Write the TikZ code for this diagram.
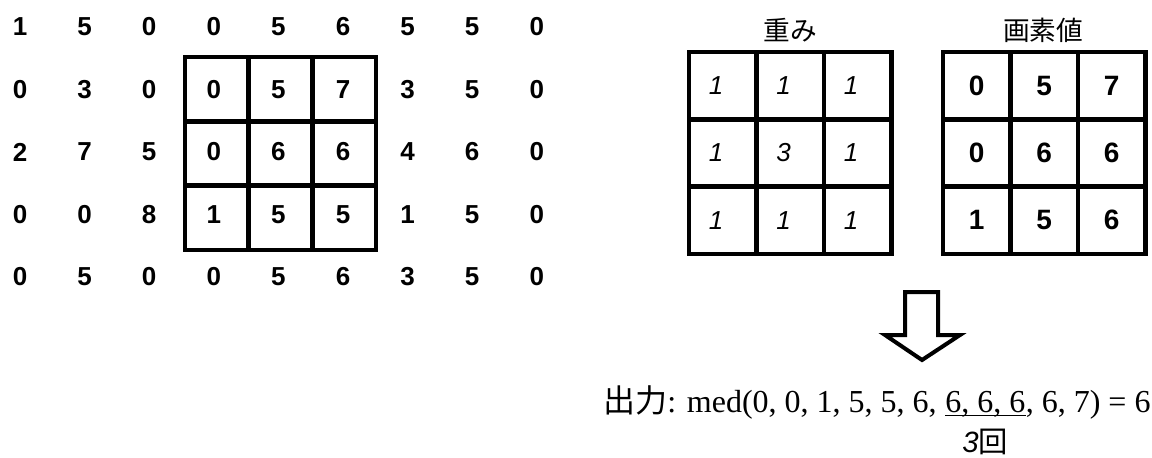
\documentclass[tikz,border=0pt]{standalone}
\usepackage{fontspec}
\setmainfont{Liberation Serif}
\setsansfont{Liberation Sans}
\newfontfamily\jpfont{Noto Sans CJK JP}
\usetikzlibrary{positioning}

\tikzset{
  num/.style={font=\sffamily\bfseries\fontsize{19.5}{19.5}\selectfont, inner sep=0pt},
  wnum/.style={font=\sffamily\itshape\fontsize{19.5}{19.5}\selectfont, inner sep=0pt, xshift=-5pt},
  pnum/.style={font=\sffamily\bfseries\fontsize{21}{21}\selectfont, inner sep=0pt},
  win/.style={line width=3.6pt, line cap=rect},
  head/.style={font=\jpfont\fontsize{20}{20}\selectfont, inner sep=0pt},
  outtxt/.style={font=\fontsize{24}{24}\selectfont, inner sep=0pt},
  cnt/.style={font=\fontsize{22}{22}\selectfont, inner sep=0pt},
}

\begin{document}
\begin{tikzpicture}[x=0.75pt, y=-0.75pt]
  \useasboundingbox (0,0) rectangle (1152,457);

  % 入力画像 (5x9)
  \foreach \row [count=\j] in {{1,5,0,0,5,6,5,5,0},{0,3,0,0,5,7,3,5,0},{2,7,5,0,6,6,4,6,0},{0,0,8,1,5,5,1,5,0},{0,5,0,0,5,6,3,5,0}}
    \foreach \v [count=\i] in \row
      \node[num] (img-\j-\i) at ({20+64.6*(\i-1)}, {27+62.5*(\j-1)}) {\v};

  % 3x3 の窓
  \draw[win] (185,57) rectangle (376,250);
  \foreach \k in {1,2} {
    \draw[win] ({185+63.67*\k},57) -- ({185+63.67*\k},250);
    \draw[win] (185,{57+64.33*\k}) -- (376,{57+64.33*\k});
  }

  % 重み
  \node[head] (w-title) at (790,30) {重み};
  \draw[win] (689,52) rectangle (891.5,254);
  \foreach \k in {1,2} {
    \draw[win] ({689+67.5*\k},52) -- ({689+67.5*\k},254);
    \draw[win] (689,{52+67.33*\k}) -- (891.5,{52+67.33*\k});
  }
  \foreach \row [count=\j] in {{1,1,1},{1,3,1},{1,1,1}}
    \foreach \v [count=\i] in \row
      \node[wnum] (w-\j-\i) at ({689+67.5*(\i-0.5)}, {52+67.33*(\j-0.5)}) {\v};

  % 画素値
  \node[head] (p-title) at (1043,30) {画素値};
  \draw[win] (943,52) rectangle (1145.5,254);
  \foreach \k in {1,2} {
    \draw[win] ({943+67.5*\k},52) -- ({943+67.5*\k},254);
    \draw[win] (943,{52+67.33*\k}) -- (1145.5,{52+67.33*\k});
  }
  \foreach \row [count=\j] in {{0,5,7},{0,6,6},{1,5,6}}
    \foreach \v [count=\i] in \row
      \node[pnum] (p-\j-\i) at ({943+67.5*(\i-0.5)}, {52+67.33*(\j-0.5)}) {\v};

  % 白抜き矢印
  \draw[line width=3pt, line join=miter] (905,292) -- (938,292) -- (938,335) -- (960,335)
    -- (922,360) -- (885,335) -- (905,335) -- cycle;

  % 出力
  \node[outtxt, anchor=base west] (out-b) at (945,412) {6, 6, 6};
  \node[outtxt, anchor=base east] (out-a) at ([xshift=-6pt]out-b.base west) {{\jpfont 出力}: med(0, 0, 1, 5, 5, 6,};
  \node[outtxt, anchor=base west] (out-c) at (out-b.base east) {, 6, 7) = 6};
  \draw[line width=1.2pt] ([yshift=-2.5pt]out-b.base west) -- ([yshift=-2.5pt]out-b.base east);
  \node[cnt, below=9pt of out-b] (out-n) {{\sffamily\itshape 3}{\jpfont 回}};
\end{tikzpicture}
\end{document}
